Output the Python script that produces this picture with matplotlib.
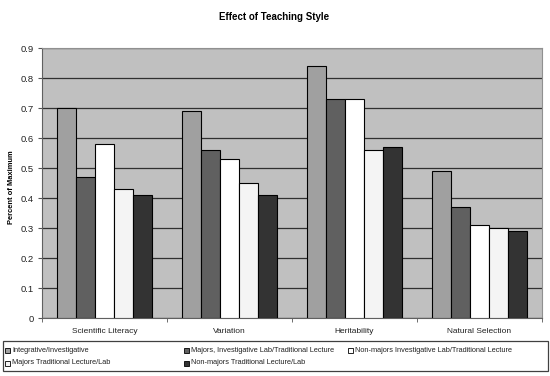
import matplotlib
matplotlib.use("Agg")
import matplotlib.pyplot as plt
import numpy as np
from matplotlib.patches import Rectangle

plt.rcParams['font.family'] = ['Liberation Sans', 'DejaVu Sans']

categories = ["Scientific Literacy", "Variation", "Heritability", "Natural Selection"]
series_names = ["Integrative/Investigative",
                "Majors, Investigative Lab/Traditional Lecture",
                "Non-majors Investigative Lab/Traditional Lecture",
                "Majors Traditional Lecture/Lab",
                "Non-majors Traditional Lecture/Lab"]
integrative = [0.70, 0.69, 0.84, 0.49]
majors_inv = [0.47, 0.56, 0.73, 0.37]
nonmajors_inv = [0.58, 0.53, 0.73, 0.31]
majors_trad = [0.43, 0.45, 0.56, 0.30]
nonmajors_trad = [0.41, 0.41, 0.57, 0.29]
yticks = [0, 0.1, 0.2, 0.3, 0.4, 0.5, 0.6, 0.7, 0.8, 0.9]

series = [integrative, majors_inv, nonmajors_inv, majors_trad, nonmajors_trad]
colors = ["#a0a0a0", "#606060", "#ffffff", "#f4f4f4", "#333333"]

fig = plt.figure(figsize=(5.5, 3.76), dpi=100)
ax = fig.add_axes([42/550, 1-318/376, 500/550, 270/376])
ax.set_facecolor("#c0c0c0")

x = np.arange(len(categories))
w = 0.152
for i, (vals, c) in enumerate(zip(series, colors)):
    ax.bar(x - 2*w + i*w, vals, width=w, color=c, edgecolor="#000000", linewidth=0.8, zorder=3)

ax.set_xlim(-0.5, len(categories) - 0.5)
ax.set_ylim(0, 0.9)
ax.set_yticks(yticks)
ax.set_yticklabels([("%g" % v) for v in yticks], fontsize=6.8, color="#222222")
ax.yaxis.grid(True, color="#303030", linewidth=0.9, zorder=1)
ax.set_axisbelow(True)
ax.set_xticks(x)
ax.set_xticklabels(categories, fontsize=6.0, color="#222222")
ax.tick_params(axis='x', length=0, pad=7)
ax.set_xticks(np.arange(-0.5, len(categories)), minor=True)
ax.tick_params(axis='x', which='minor', length=3, color="#555555")
ax.tick_params(axis='y', length=3, color="#555555", pad=3)
for s in ["top", "right"]:
    ax.spines[s].set_color("#909090")
for s in ["left", "bottom"]:
    ax.spines[s].set_color("#606060")
ax.set_ylabel("Percent of Maximum", fontsize=5.4, fontweight='bold', labelpad=8)
ax.yaxis.set_label_coords(-(42-15)/500, (318-187)/270)

fig.text(274/550, 1-17/376, "Effect of Teaching Style", ha='center', va='center',
         fontsize=7.0, fontweight='bold')

# legend box
fig.patches.append(Rectangle((3/550, 1-371/376), 545/550, 30/376, transform=fig.transFigure,
                             fill=False, edgecolor="#404040", linewidth=0.9))
pos = [(5, 350), (184, 350), (348, 350), (5, 363), (184, 363)]
for (px, py), name, c in zip(pos, series_names, colors):
    fig.patches.append(Rectangle((px/550, 1-(py+2.5)/376), 5/550, 5/376, transform=fig.transFigure,
                                 facecolor=c, edgecolor="#000000", linewidth=0.6))
    fig.text((px+7)/550, 1-py/376, name, ha='left', va='center', fontsize=5.3, color="#222222")

fig.savefig("out.png", dpi=100)
